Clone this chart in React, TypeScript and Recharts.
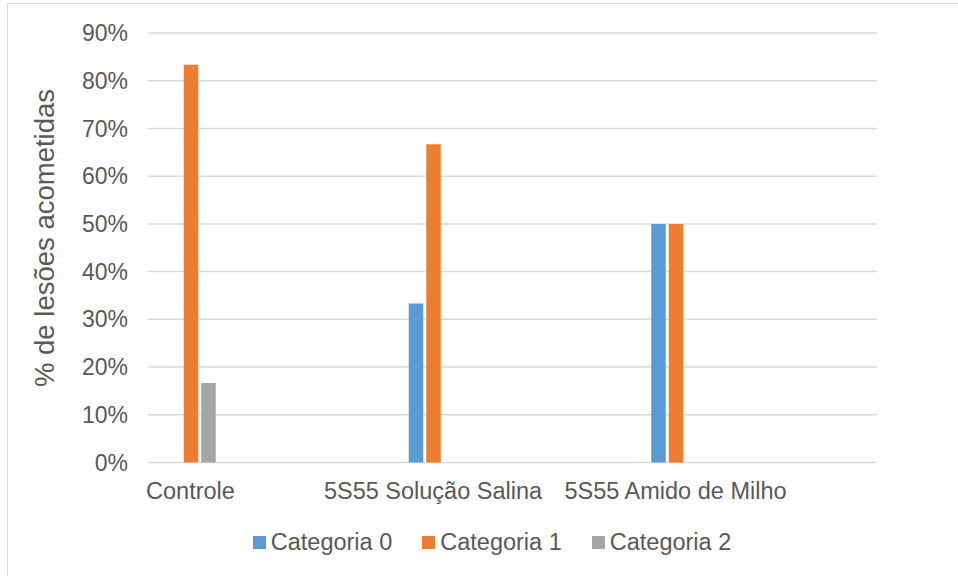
import { BarChart, Bar, XAxis, YAxis, CartesianGrid, Legend } from "recharts";

const categories = ["Controle", "5S55 Solução Salina", "5S55 Amido de Milho"];
const seriesNames = ["Categoria 0", "Categoria 1", "Categoria 2"];
const categoria0 = [0, 33.33, 50];
const categoria1 = [83.33, 66.67, 50];
const categoria2 = [16.67, 0, 0];
const yTicks = [0, 10, 20, 30, 40, 50, 60, 70, 80, 90];

const COLORS = ["#5B9BD5", "#ED7D31", "#A5A5A5"];
const TEXT = "#595959";
const FONT = "'Liberation Sans', Arial, sans-serif";

const data = categories.map((name, i) => ({
  name,
  c0: categoria0[i],
  c1: categoria1[i],
  c2: categoria2[i],
}));

function LegendRow({ payload }: any) {
  return (
    <div
      style={{
        display: "flex",
        justifyContent: "center",
        alignItems: "center",
        fontFamily: FONT,
        fontSize: 23.5,
        lineHeight: "27px",
        color: TEXT,
      }}
    >
      {(payload || []).map((p: any, i: number) => (
        <div
          key={p.value}
          style={{ display: "flex", alignItems: "center", marginLeft: i ? 30 : 0 }}
        >
          <span
            style={{ width: 13, height: 13, background: p.color, marginRight: 5 }}
          />
          <span>{p.value}</span>
        </div>
      ))}
    </div>
  );
}

function App() {
  return (
    <div
      style={{
        position: "absolute",
        left: 0,
        top: 0,
        width: 958,
        height: 576,
        overflow: "hidden",
        background: "#fff",
      }}
    >
      {/* chart frame, only its top and left edges fall inside the page */}
      <div
        style={{
          position: "absolute",
          left: 6.5,
          top: 3,
          width: 1000,
          height: 620,
          borderLeft: "1.5px solid #d9d9d9",
          borderTop: "1.5px solid #d9d9d9",
        }}
      />
      <div
        style={{
          position: "absolute",
          left: 45,
          top: 238,
          transform: "translate(-50%, -50%) rotate(-90deg)",
          whiteSpace: "nowrap",
          fontFamily: FONT,
          fontSize: 27.5,
          color: TEXT,
        }}
      >
        % de lesões acometidas
      </div>
      <BarChart
        width={958}
        height={576}
        data={data}
        margin={{ top: 33, right: 81, bottom: 0, left: 0 }}
        barSize={14.5}
        barGap={3}
        style={{ position: "absolute", left: 0, top: 0 }}
      >
        <CartesianGrid vertical={false} stroke="#d9d9d9" strokeWidth={1.5} />
        <XAxis
          dataKey="name"
          interval={0}
          height={113.5}
          padding={{ left: -78.75, right: 80.25 }}
          axisLine={false}
          tickLine={false}
          tickSize={0}
          tickMargin={19.5}
          tick={{ fill: TEXT, fontSize: 23.5, fontFamily: FONT }}
        />
        <YAxis
          width={148}
          domain={[0, 90]}
          ticks={yTicks}
          axisLine={false}
          tickLine={false}
          tickSize={0}
          tickMargin={20}
          tickFormatter={(v: number) => `${v}%`}
          tick={{ fill: TEXT, fontSize: 23, fontFamily: FONT }}
        />
        <Legend
          verticalAlign="middle"
          content={<LegendRow />}
          wrapperStyle={{ top: 528.5, left: 13, width: 958 }}
        />
        <Bar dataKey="c0" name={seriesNames[0]} fill={COLORS[0]} isAnimationActive={false} />
        <Bar dataKey="c1" name={seriesNames[1]} fill={COLORS[1]} isAnimationActive={false} />
        <Bar dataKey="c2" name={seriesNames[2]} fill={COLORS[2]} isAnimationActive={false} />
      </BarChart>
    </div>
  );
}

export default App;
